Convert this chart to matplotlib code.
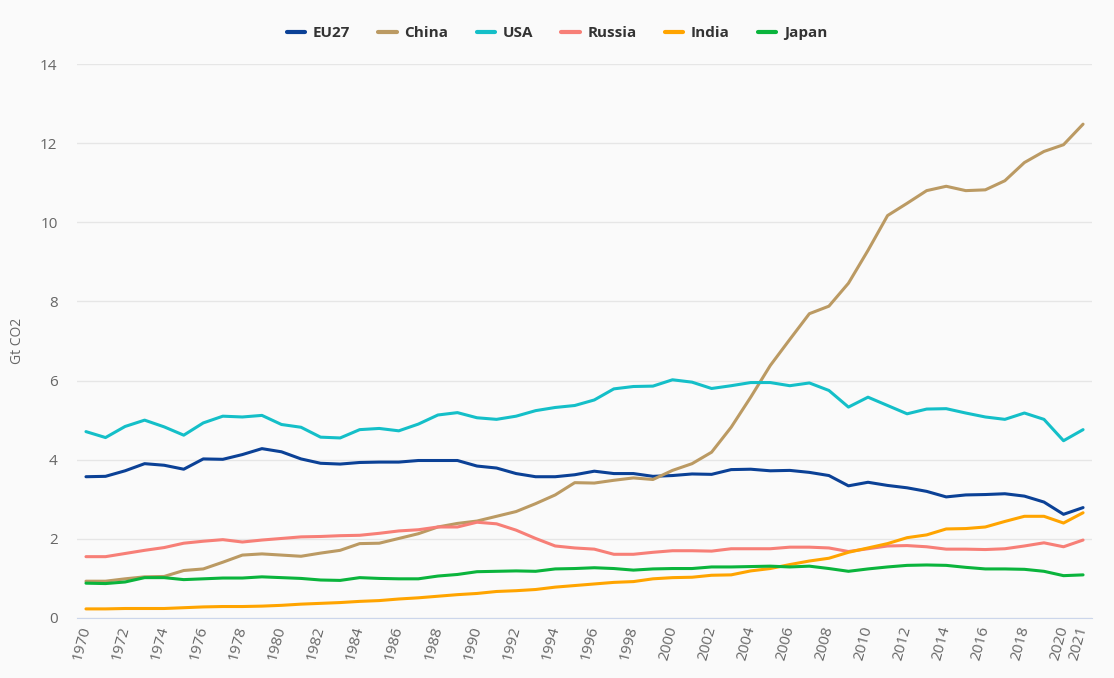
# -*- coding: utf-8 -*-

import numpy as np
import matplotlib

matplotlib.use("Agg")
import matplotlib.pyplot as plt

plt.rcParams["font.family"] = ["Open Sans", "DejaVu Sans"]

years = list(range(1970, 2022))

eu27 = [3.57, 3.58, 3.72, 3.90, 3.86, 3.76, 4.02, 4.01, 4.13, 4.28,
        4.20, 4.02, 3.91, 3.89, 3.93, 3.94, 3.94, 3.98, 3.98, 3.98,
        3.84, 3.79, 3.65, 3.57, 3.57, 3.62, 3.71, 3.65, 3.65, 3.58,
        3.60, 3.64, 3.63, 3.75, 3.76, 3.72, 3.73, 3.68, 3.60, 3.34,
        3.43, 3.35, 3.29, 3.20, 3.06, 3.11, 3.12, 3.14, 3.08, 2.93,
        2.62, 2.79]
china = [0.93, 0.93, 0.99, 1.04, 1.05, 1.20, 1.24, 1.41, 1.59, 1.62,
         1.59, 1.56, 1.64, 1.71, 1.88, 1.89, 2.01, 2.13, 2.30, 2.39,
         2.45, 2.57, 2.69, 2.89, 3.11, 3.42, 3.41, 3.48, 3.54, 3.50,
         3.73, 3.90, 4.19, 4.82, 5.58, 6.38, 7.04, 7.69, 7.88, 8.46,
         9.29, 10.17, 10.48, 10.80, 10.91, 10.80, 10.82, 11.05, 11.51, 11.79,
         11.96, 12.48]
usa = [4.71, 4.56, 4.84, 5.00, 4.83, 4.62, 4.93, 5.10, 5.08, 5.12,
       4.89, 4.82, 4.57, 4.55, 4.76, 4.79, 4.73, 4.90, 5.13, 5.19,
       5.06, 5.02, 5.10, 5.24, 5.32, 5.37, 5.51, 5.79, 5.85, 5.86,
       6.02, 5.96, 5.80, 5.87, 5.95, 5.95, 5.87, 5.94, 5.75, 5.33,
       5.58, 5.37, 5.16, 5.28, 5.29, 5.18, 5.08, 5.02, 5.18, 5.02,
       4.48, 4.76]
russia = [1.55, 1.55, 1.63, 1.71, 1.78, 1.89, 1.94, 1.98, 1.92, 1.97,
          2.01, 2.05, 2.06, 2.08, 2.09, 2.14, 2.20, 2.23, 2.30, 2.30,
          2.42, 2.38, 2.22, 2.01, 1.82, 1.77, 1.74, 1.61, 1.61, 1.66,
          1.70, 1.70, 1.69, 1.75, 1.75, 1.75, 1.79, 1.79, 1.77, 1.68,
          1.75, 1.82, 1.83, 1.80, 1.74, 1.74, 1.73, 1.75, 1.82, 1.90,
          1.80, 1.97]
india = [0.23, 0.23, 0.24, 0.24, 0.24, 0.26, 0.28, 0.29, 0.29, 0.30,
         0.32, 0.35, 0.37, 0.39, 0.42, 0.44, 0.48, 0.51, 0.55, 0.59,
         0.62, 0.67, 0.69, 0.72, 0.78, 0.82, 0.86, 0.90, 0.92, 0.99,
         1.02, 1.03, 1.08, 1.09, 1.19, 1.25, 1.35, 1.44, 1.51, 1.66,
         1.77, 1.88, 2.03, 2.10, 2.25, 2.26, 2.30, 2.44, 2.57, 2.57,
         2.40, 2.66]
japan = [0.88, 0.87, 0.91, 1.02, 1.02, 0.97, 0.99, 1.01, 1.01, 1.04,
         1.02, 1.00, 0.96, 0.95, 1.02, 1.00, 0.99, 0.99, 1.06, 1.10,
         1.17, 1.18, 1.19, 1.18, 1.24, 1.25, 1.27, 1.25, 1.21, 1.24,
         1.25, 1.25, 1.29, 1.29, 1.30, 1.31, 1.29, 1.31, 1.25, 1.18,
         1.24, 1.29, 1.33, 1.34, 1.33, 1.28, 1.24, 1.24, 1.23, 1.18,
         1.07, 1.09]

series_names = ["EU27", "China", "USA", "Russia", "India", "Japan"]
series_colors = ["#0b4196", "#bb9a63", "#14bfc8", "#f77f77", "#ffa400", "#0ab43c"]

xticks = list(range(1970, 2021, 2)) + [2021]

fig = plt.figure(figsize=(11.14, 6.78), dpi=100)
fig.patch.set_facecolor("#fafafa")
ax = fig.add_axes([0.0691, 0.0885, 0.9112, 0.8171])
ax.set_facecolor("#fafafa")

for name, vals, col in zip(series_names, [eu27, china, usa, russia, india, japan], series_colors):
    ax.plot(years, vals, color=col, lw=2.2, label=name, solid_capstyle="round",
            solid_joinstyle="round")

ax.set_xlim(1969.54, 2021.46)
ax.set_ylim(0, 14)
ax.set_yticks(np.arange(0, 15, 2))
ax.set_xticks(xticks)
ax.set_xticklabels([str(y) for y in xticks], rotation=75, ha="right", va="center",
                   rotation_mode="anchor")
ax.grid(axis="y", color="#e6e6e6", lw=1)
ax.set_axisbelow(True)
for s in ["top", "right", "left"]:
    ax.spines[s].set_visible(False)
ax.spines["bottom"].set_color("#ccd6eb")
ax.tick_params(axis="y", length=0, pad=14, labelsize=11, labelcolor="#666666")
ax.tick_params(axis="x", length=0, pad=6, labelsize=11, labelcolor="#666666")
ax.set_ylabel("Gt CO2", color="#666666", fontsize=10)
ax.yaxis.set_label_coords(-0.051, 0.5)

leg = fig.legend(loc="center", bbox_to_anchor=(0.5, 1 - 33 / 678), ncol=6, frameon=False,
                 handlelength=1.2, columnspacing=1.85, handletextpad=0.5,
                 prop={"weight": "bold", "size": 11})
for t in leg.get_texts():
    t.set_color("#333333")
for h in leg.get_lines():
    h.set_linewidth(3)

fig.savefig("out.png", dpi=100, facecolor=fig.get_facecolor())
